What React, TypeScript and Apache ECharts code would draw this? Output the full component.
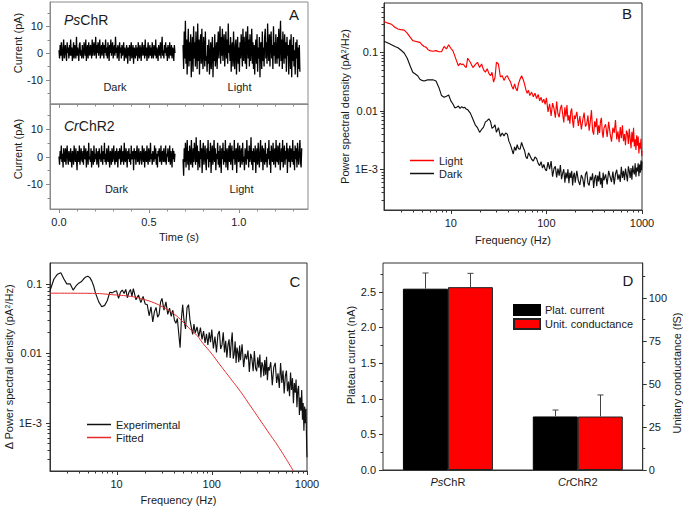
import React, { useEffect, useRef } from 'react';
import * as echarts from 'echarts';

const FONT = '"Liberation Sans", Arial, Helvetica, sans-serif';
const TXT = '#1a1a1a';
const FRAME_A = '#8a8a8a';
const FRAME = '#333333';
const BAR_W = 45;

// ---------- Panel A : current traces (pA) ----------
const psDarkPa = [
  1, -2, 3, -1, 4, 0, -3, 2, 5, -2, 1, 3, -1, -3, 4, 0, 2, -2, 3, -1,
  5, -1, 2, -3, 0, 4, -2, 3, 1, -2, 6, -1, 2, 0, -3, 3, 4, -1, 1, -2,
  3, 0, -2, 4, 2, -1, 5, -3, 1, 3, -2, 4, 0, -1, 3, 2, -2, 5, -1, 2,
  4, -1, 1, 6, -2, 3, 0, 4, -1, 2, 5, -2, 1, 3, -1, 4, 2, -2, 3, 0,
  5, -1, 2, -2, 4, 1, -3, 3, 0, 5, -1, 2, 4, -2, 1, 3, -1, 6, 0, 2,
  -2, 3, 1, -3, 4, 0, 2, -2, 3, -1, 1, 4, -3, 2, 0, -2, 3, 1, -4, 2,
  -1, 3, -3, 1, 4, -2, 0, 3, -4, 2, 1, -2, 3, -1, 2, -3, 4, 0, -2, 3,
  1, -3, 2, 4, -1, 0, 3, -2, 5, -1, 2, -3, 1, 4, -2, 0, 3, -1, 2, -2,
  4, 0, -2, 3, 1, -1, 5, -2, 2, 0, -3, 3, 1, -1, 4, -2, 2, 6, -1, 1,
  -2, 3, 0, 4, -1, 2, -3, 3, 1, -2, 4, 0, -1, 3, -2, 2, 1, -3, 3, 0,
];
const psLightPa = [
  3, -6, 8, -2, 12, -4, 5, -8, 2, 9, -5, 4, -3, 7, -9, 1, 6, -7, 10, -2,
  4, -5, 8, 0, -6, 11, -3, 5, -8, 3, 7, -4, 9, -1, -6, 6, 2, -5, 8, -3,
  -1, -7, 3, -4, 5, -8, -2, 4, -6, 1, 6, -9, 2, -3, 7, -5, 0, 4, -6, 3,
  8, -2, 5, 10, -4, 6, -1, 9, -3, 4, 7, -5, 2, 8, -2, 5, -4, 11, 0, 3,
  -3, 6, -7, 2, 4, -5, 8, -1, -6, 3, 5, -8, 1, 6, -4, 2, -7, 4, -2, 7,
  2, -5, 9, -3, 6, 0, -4, 8, -6, 3, 10, -2, 5, -5, 7, -3, 1, 9, -4, 4,
  -6, 3, -8, 1, 5, -4, 7, -7, 2, -2, 6, -9, 3, 4, -6, 8, -3, 2, -5, 6,
  9, -2, 4, -4, 11, 1, -3, 7, -5, 5, 8, -2, 3, -6, 10, -1, 4, -4, 7, 0,
  -4, 6, -2, 9, -5, 3, 12, -3, 5, -6, 8, 1, -4, 7, -2, 4, -7, 6, -1, 3,
  -8, 2, 5, -6, 7, -9, 3, -3, 6, -5, 1, -8, 4, -2, 5, -9, 2, -6, 3, -7,
];
const crDarkPa = [
  0, -3, 2, -1, 4, -2, 1, -4, 3, 0, -2, 3, -3, 1, 4, -1, -3, 2, 0, -2,
  3, -1, -4, 2, 1, -3, 4, 0, -2, 3, -1, -5, 2, 1, -2, 4, -3, 0, 3, -1,
  -2, 2, -3, 4, 0, -1, 3, -4, 1, 2, -3, 5, -1, 0, -2, 3, -4, 2, 1, -3,
  4, -2, 1, -1, 3, -3, 0, 2, -4, 3, -1, 1, -2, 4, 0, -3, 2, -1, 5, -2,
  1, -3, 3, 0, -2, 4, -1, -4, 2, 1, -3, 3, -2, 0, 4, -1, -3, 2, -2, 3,
  0, -4, 2, -1, 3, 1, -3, 4, -2, 0, 2, -3, 5, -1, -2, 3, 0, -4, 2, -1,
  3, -2, 1, -3, 4, -1, 0, 2, -5, 3, -1, 2, -3, 1, 4, -2, -1, 3, -3, 0,
  2, -1, -3, 4, 0, -2, 3, -4, 1, 2, -2, 4, -1, -3, 3, 0, -2, 5, -1, 1,
  -3, 2, 0, -2, 4, -1, 3, -3, 1, -4, 2, 0, 3, -2, -1, 4, -3, 1, 2, -2,
  3, -1, -2, 4, -3, 1, 0, 3, -2, -1, 4, -3, 2, 0, -4, 3, -1, 2, -2, 1,
];
const crLightPa = [
  -1, -7, 3, -2, 5, -4, 1, 6, -3, 2, -5, 4, 0, -3, 6, -1, -4, 3, -2, 5,
  1, -3, 7, -2, 4, -5, 2, 0, -4, 6, -1, 3, -6, 2, 5, -3, 0, 4, -2, -5,
  3, -1, 6, -4, 2, -2, 5, -6, 1, 4, -3, 0, 6, -2, 3, -5, 1, -1, 5, -3,
  2, -4, 4, 0, -6, 3, -1, 5, -3, 2, -2, 6, -4, 1, 3, -5, 0, 4, -2, 5,
  -3, 1, 4, -5, 2, -1, 6, -3, 0, 3, -6, 2, 5, -2, -1, 4, -4, 1, 3, -3,
  5, -2, 0, -5, 3, 1, -3, 6, -1, 2, -4, 4, -2, 0, 7, -3, 2, -5, 3, -1,
  -2, 4, -6, 1, 3, -3, 5, 0, -4, 2, 6, -2, -1, 4, -5, 3, 0, -3, 5, -2,
  1, -4, 3, -1, 6, -3, 2, -6, 4, 0, -2, 5, -3, 1, 3, -4, 6, -1, -2, 4,
  -3, 2, 5, -5, 0, 3, -2, 6, -4, 1, 4, -3, 2, -1, 5, -6, 3, 0, -2, 4,
  -4, 3, 1, -2, 6, -3, 2, -5, 4, -1, 3, -4, 5, 0, -3, 2, 6, -2, -4, 3,
];
// recording windows (s)
const psDarkSpan = [0, 0.645];
const psLightSpan = [0.69, 1.34];
const crDarkSpan = [0, 0.645];
const crLightSpan = [0.69, 1.35];

// ---------- Panels B and C : spectra ----------
const freqHz = [
  2, 2.2, 2.4, 2.6, 2.8, 3, 3.25, 3.5, 3.75, 4, 4.25, 4.5, 4.75, 5, 5.25, 5.5, 5.75, 6, 6.5, 7, 7.5, 8, 8.5, 9, 9.5,
  10, 10.5, 11, 11.5, 12, 12.5, 13, 13.5, 14, 14.5, 15,
  16, 17, 18, 19, 20, 21, 22, 23, 24, 25, 26, 27, 28, 29, 30,
  31.5, 33, 34.5, 36, 37.5, 39, 40.5, 42, 43.5, 45, 46.5, 48, 49.5,
  51, 53, 55, 57, 59, 61, 63, 65, 67,
  70, 73, 76, 79, 82, 85, 88, 91, 94, 97,
  100, 104, 108, 112, 116, 120, 124, 128, 132, 136, 140, 144, 148, 152, 156, 160, 164, 168, 172, 176, 180, 184, 188, 192, 196,
  200, 208, 216, 224, 232, 240, 248, 256, 264, 272, 280, 288, 296, 304, 312, 320, 328, 336, 344, 352, 360, 368, 376, 384, 392,
  400, 416, 432, 448, 464, 480, 496, 512, 528, 544, 560, 576, 592, 608, 624, 640, 656, 672, 688, 704, 720, 736, 752, 768, 784,
  800, 816, 832, 848, 864, 880, 896, 912, 928, 944, 960, 976, 992, 1000,
];
// log10(PSD in pA^2/Hz) x 100, one value per freqHz entry
const lightPsdLog = [
  -47, -50, -52, -57, -60, -61, -62, -67, -74, -80, -81, -82, -83, -87, -90, -91, -95, -97, -98, -97, -99, -99, -90, -94, -87,
  -93, -97, -106, -115, -123, -119, -121, -120, -124, -126, -110,
  -117, -126, -121, -117, -126, -120, -130, -134, -128, -136, -140, -134, -151, -143, -117,
  -120, -142, -140, -148, -142, -140, -146, -150, -158, -163, -154, -162, -166,
  -154, -146, -140, -146, -154, -164, -170, -165, -174,
  -168, -176, -170, -179, -172, -183, -177, -186, -180, -189,
  -178, -202, -188, -209, -187, -196, -212, -184, -205, -211, -196, -190, -206, -220, -194, -210, -190, -217, -208, -222, -201, -196, -218, -229, -208,
  -214, -202, -226, -209, -232, -216, -203, -227, -223, -208, -234, -218, -199, -234, -241, -218, -228, -213, -241, -225, -238, -218, -212, -236, -246,
  -230, -223, -245, -219, -239, -253, -229, -238, -216, -249, -235, -254, -228, -247, -225, -252, -240, -259, -234, -239, -257, -231, -248, -264, -236,
  -254, -229, -261, -249, -267, -242, -260, -244, -273, -255, -265, -248, -278, -269,
];
const darkPsdLog = [
  -81, -84, -87, -90, -92, -96, -101, -110, -123, -134, -137, -140, -146, -148, -149, -148, -147, -147, -147, -149, -160, -174, -177, -175, -173,
  -183, -188, -195, -194, -192, -196, -193, -195, -194, -197, -198,
  -204, -214, -224, -229, -237, -232, -228, -219, -217, -214, -218, -230, -228, -224, -237,
  -229, -244, -238, -243, -238, -240, -252, -258, -266, -274, -262, -268, -258,
  -265, -266, -254, -262, -268, -279, -282, -272, -276,
  -283, -286, -279, -282, -290, -294, -287, -298, -292, -300,
  -303, -288, -300, -286, -313, -299, -295, -314, -299, -311, -293, -317, -307, -300, -323, -306, -316, -300, -324, -306, -315, -303, -328, -311, -306,
  -323, -303, -320, -327, -310, -316, -331, -309, -304, -324, -328, -313, -319, -307, -332, -315, -310, -329, -311, -321, -304, -326, -315, -332, -306,
  -319, -309, -326, -303, -313, -322, -304, -326, -308, -301, -318, -309, -322, -296, -315, -303, -319, -299, -310, -321, -295, -303, -315, -298, -318,
  -294, -304, -309, -290, -313, -297, -304, -290, -312, -292, -306, -285, -302, -287,
];
const deltaPsdLog = [
  -110, -93, -86, -84, -93, -100, -100, -109, -103, -99, -97, -93, -90, -89, -91, -96, -103, -113, -126, -133, -131, -124, -112, -113, -111,
  -110, -121, -112, -109, -114, -108, -120, -112, -108, -118, -107,
  -123, -116, -127, -118, -129, -130, -146, -133, -155, -140, -134, -148, -144, -126, -121,
  -138, -126, -144, -135, -147, -138, -152, -157, -150, -172, -192, -150, -130,
  -152, -165, -134, -130, -152, -163, -173, -158, -171,
  -162, -176, -163, -180, -168, -185, -172, -188, -170, -184,
  -166, -193, -176, -199, -173, -168, -194, -188, -170, -199, -182, -206, -188, -180, -207, -185, -170, -208, -201, -183, -214, -192, -199, -213, -189,
  -210, -187, -220, -201, -209, -196, -227, -201, -208, -226, -197, -221, -226, -206, -221, -202, -235, -213, -218, -233, -210, -231, -205, -239, -220,
  -225, -213, -246, -220, -214, -243, -229, -250, -214, -243, -225, -258, -233, -225, -255, -241, -262, -228, -253, -236, -272, -243, -257, -238, -278,
  -253, -247, -289, -264, -283, -253, -296, -272, -312, -277, -301, -280, -335, -350,
];
const fitFreqHz = [2, 5, 10, 15, 20, 25, 30, 40, 50, 60, 70, 80, 100, 120, 150, 200, 250, 300, 400, 500, 720];
const fitPsd = [0.0734, 0.0731, 0.069, 0.065, 0.059, 0.053, 0.047, 0.037, 0.028, 0.0218, 0.018, 0.0141, 0.0098, 0.007, 0.0047, 0.0028, 0.0018, 0.00125, 0.0007, 0.00045, 0.0002];

// ---------- Panel D ----------
const categories = ['PsChR', 'CrChR2'];
const plateauCurrent = [2.54, 0.75];
const plateauCurrentErr = [0.22, 0.09];
const unitConductance = [106, 31];
const unitConductanceErr = [8, 12.5];

// ---------- tick values ----------
const timeTicksMajor = [0, 0.5, 1.0];
const timeTicksMinor = [0.1, 0.2, 0.3, 0.4, 0.6, 0.7, 0.8, 0.9, 1.1, 1.2, 1.3];
const paTicksMajor = [-10, 0, 10];
const paTicksMinor = [-15, -5, 5, 15];
const freqTicksMajor = [10, 100, 1000];
const freqTicksMinor = [3, 4, 5, 6, 7, 8, 9, 20, 30, 40, 50, 60, 70, 80, 90, 200, 300, 400, 500, 600, 700, 800, 900];
const psdTicksMajor = [0.001, 0.01, 0.1];
const psdTicksMinorC = [3e-4, 4e-4, 5e-4, 6e-4, 7e-4, 8e-4, 9e-4, 2e-3, 3e-3, 4e-3, 5e-3, 6e-3, 7e-3, 8e-3, 9e-3,
  0.02, 0.03, 0.04, 0.05, 0.06, 0.07, 0.08, 0.09];
const psdTicksMinorB = [...psdTicksMinorC, 0.2, 0.3, 0.4, 0.5, 0.6];
const currentTicksMajor = [0, 0.5, 1, 1.5, 2, 2.5];
const currentTicksMinor = [0.25, 0.75, 1.25, 1.75, 2.25, 2.75];
const condTicksMajor = [0, 25, 50, 75, 100];
const condTicksMinor = [12.5, 37.5, 62.5, 87.5, 112.5];

// ---------- helpers ----------
const trace = (vals: number[], span: number[]) =>
  vals.map((v, i) => [span[0] + ((span[1] - span[0]) * i) / (vals.length - 1), v]);
const spectrum = (logs: number[]) => logs.map((l, i) => [freqHz[i], Math.pow(10, l / 100)]);

const fmtLog = (v: number) => {
  const l = Math.log10(v);
  const e = Math.round(l);
  if (Math.abs(l - e) > 1e-6) return '';
  if (e >= 0) return String(Math.round(v));
  if (e >= -2) return Math.pow(10, e).toFixed(-e);
  return '1E' + e;
};
const fmtTime = (v: number) =>
  v > -1e-9 && Math.abs(v * 2 - Math.round(v * 2)) < 1e-6 ? v.toFixed(1) : '';
const fmtPa = (v: number) => (Math.abs(v % 10) < 1e-9 ? String(v) : '');

const axisText = { fontSize: 11, color: TXT, fontFamily: FONT };
const supRich = { sup: { fontSize: 7, fontFamily: FONT, color: TXT, verticalAlign: 'top', lineHeight: 8 } };

function tickSeries(xIdx: number, yIdx: number, where: 'x' | 'y' | 'y2', values: number[], len: number, ref: number, color: string) {
  return {
    type: 'custom',
    xAxisIndex: xIdx,
    yAxisIndex: yIdx,
    silent: true,
    z: 10,
    data: values.map((v) => (where === 'x' ? [v, ref] : [ref, v])),
    renderItem: (params: any, api: any) => {
      const p = api.coord([api.value(0), api.value(1)]);
      const cs = params.coordSys;
      let shape;
      if (where === 'x') {
        const x = Math.round(p[0]) + 0.5;
        shape = { x1: x, y1: cs.y + cs.height, x2: x, y2: cs.y + cs.height + len };
      } else if (where === 'y') {
        const y = Math.round(p[1]) + 0.5;
        shape = { x1: cs.x - len, y1: y, x2: cs.x, y2: y };
      } else {
        const y = Math.round(p[1]) + 0.5;
        shape = { x1: cs.x + cs.width, y1: y, x2: cs.x + cs.width + len, y2: y };
      }
      return { type: 'line', shape, style: { stroke: color, lineWidth: 1 } };
    },
  };
}

function errorSeries(vals: number[], errs: number[], yIdx: number, dx: number) {
  return {
    type: 'custom',
    xAxisIndex: 4,
    yAxisIndex: yIdx,
    silent: true,
    z: 6,
    data: vals.map((v, i) => [i, v, v + errs[i]]),
    renderItem: (params: any, api: any) => {
      const base = api.coord([api.value(0), api.value(1)]);
      const top = api.coord([api.value(0), api.value(2)]);
      const x = Math.round(base[0] + dx) + 0.5;
      return {
        type: 'group',
        children: [
          { type: 'line', shape: { x1: x, y1: base[1], x2: x, y2: top[1] }, style: { stroke: '#444', lineWidth: 1 } },
          { type: 'line', shape: { x1: x - 3, y1: top[1], x2: x + 3, y2: top[1] }, style: { stroke: '#444', lineWidth: 1 } },
        ],
      };
    },
  };
}

const lineSeries = (name: string, data: any, xIdx: number, yIdx: number, color: string, width = 1, smooth = false) => ({
  type: 'line',
  name,
  data,
  xAxisIndex: xIdx,
  yAxisIndex: yIdx,
  symbol: 'none',
  showSymbol: false,
  smooth,
  lineStyle: { color, width },
  itemStyle: { color },
  emphasis: { disabled: true },
  z: 4,
});

const noLine = { show: false };

function buildOption() {
  const grids = [
    { left: 50, top: 2, width: 258, height: 102, show: true, borderColor: FRAME_A, borderWidth: 1 },
    { left: 50, top: 104, width: 258, height: 105, show: true, borderColor: FRAME_A, borderWidth: 1 },
    { left: 384, top: 3, width: 258, height: 207, show: true, borderColor: FRAME, borderWidth: 1 },
    { left: 50, top: 263, width: 257, height: 208, show: true, borderColor: FRAME, borderWidth: 1 },
    { left: 383, top: 263, width: 260, height: 207, show: true, borderColor: FRAME, borderWidth: 1 },
  ];

  const xAxis = [
    {
      type: 'value', gridIndex: 0, min: -0.05, max: 1.385, splitNumber: 3,
      axisLine: { onZero: false, lineStyle: { color: FRAME_A } }, axisTick: noLine, axisLabel: noLine, splitLine: noLine,
    },
    {
      type: 'value', gridIndex: 1, min: -0.05, max: 1.385, splitNumber: 3,
      axisLine: { onZero: false, lineStyle: { color: FRAME_A } }, axisTick: noLine, splitLine: noLine,
      axisLabel: { ...axisText, margin: 7, formatter: fmtTime, showMinLabel: true, showMaxLabel: true, interval: 0 },
      name: 'Time (s)', nameLocation: 'middle', nameGap: 22, nameTextStyle: axisText,
    },
    {
      type: 'log', logBase: 10, gridIndex: 2, min: 2, max: 1000,
      axisLine: { onZero: false, lineStyle: { color: FRAME } }, axisTick: noLine, splitLine: noLine,
      axisLabel: { ...axisText, margin: 7, formatter: fmtLog, showMinLabel: true, showMaxLabel: true, interval: 0 },
      name: 'Frequency (Hz)', nameLocation: 'middle', nameGap: 24, nameTextStyle: axisText,
    },
    {
      type: 'log', logBase: 10, gridIndex: 3, min: 2, max: 1000,
      axisLine: { onZero: false, lineStyle: { color: FRAME } }, axisTick: noLine, splitLine: noLine,
      axisLabel: { ...axisText, margin: 7, formatter: fmtLog, showMinLabel: true, showMaxLabel: true, interval: 0 },
      name: 'Frequency (Hz)', nameLocation: 'middle', nameGap: 23, nameTextStyle: axisText,
    },
    {
      type: 'category', gridIndex: 4, data: categories,
      axisLine: { onZero: false, lineStyle: { color: FRAME } }, axisTick: noLine, splitLine: noLine,
      axisLabel: {
        ...axisText, margin: 6, interval: 0,
        formatter: (v: string) => `{i|${v.slice(0, 2)}}${v.slice(2)}`,
        rich: { i: { fontStyle: 'italic', fontSize: 11, fontFamily: FONT, color: TXT } },
      },
    },
  ];

  const yAxis = [
    {
      type: 'value', gridIndex: 0, min: -19, max: 19, splitNumber: 4,
      axisLine: { onZero: false, lineStyle: { color: FRAME_A } }, axisTick: noLine, splitLine: noLine,
      axisLabel: { ...axisText, margin: 7, formatter: fmtPa, showMinLabel: true, showMaxLabel: true },
      name: 'Current (pA)', nameLocation: 'middle', nameRotate: 90, nameGap: 26,
      nameTextStyle: { ...axisText, padding: [0, 0, 0, 20] },
    },
    {
      type: 'value', gridIndex: 1, min: -19, max: 19, splitNumber: 4,
      axisLine: { onZero: false, lineStyle: { color: FRAME_A } }, axisTick: noLine, splitLine: noLine,
      axisLabel: { ...axisText, margin: 7, formatter: fmtPa, showMinLabel: true, showMaxLabel: true },
      name: 'Current (pA)', nameLocation: 'middle', nameRotate: 90, nameGap: 26,
      nameTextStyle: { ...axisText, padding: [0, 0, 0, 15] },
    },
    {
      type: 'log', logBase: 10, gridIndex: 2, min: 2e-4, max: 0.7,
      axisLine: { onZero: false, lineStyle: { color: FRAME } }, axisTick: noLine, splitLine: noLine,
      axisLabel: { ...axisText, margin: 6, formatter: fmtLog, showMinLabel: true, showMaxLabel: true, interval: 0 },
      name: 'Power spectral density (pA{sup|2}/Hz)', nameLocation: 'middle', nameRotate: 90, nameGap: 33,
      nameTextStyle: { ...axisText, rich: supRich },
    },
    {
      type: 'log', logBase: 10, gridIndex: 3, min: 2e-4, max: 0.2,
      axisLine: { onZero: false, lineStyle: { color: FRAME } }, axisTick: noLine, splitLine: noLine,
      axisLabel: { ...axisText, margin: 8, formatter: fmtLog, showMinLabel: true, showMaxLabel: true, interval: 0 },
      name: 'Δ Power spectral density (pA{sup|2}/Hz)', nameLocation: 'middle', nameRotate: 90, nameGap: 35,
      nameTextStyle: { ...axisText, rich: supRich },
    },
    {
      type: 'value', gridIndex: 4, min: 0, max: 2.9, interval: 0.5,
      axisLine: { onZero: false, lineStyle: { color: FRAME } }, axisTick: noLine, splitLine: noLine,
      axisLabel: {
        ...axisText, margin: 7, showMaxLabel: true,
        formatter: (v: number) => (v <= 2.5 + 1e-9 ? v.toFixed(1) : ''),
      },
      name: 'Plateau current (nA)', nameLocation: 'middle', nameRotate: 90, nameGap: 26,
      nameTextStyle: { ...axisText, padding: [0, 0, 0, 23] },
    },
    {
      type: 'value', gridIndex: 4, position: 'right', min: 0, max: 120, interval: 25,
      axisLine: { show: true, onZero: false, lineStyle: { color: FRAME } }, axisTick: noLine, splitLine: noLine,
      axisLabel: {
        ...axisText, margin: 6, showMaxLabel: true,
        formatter: (v: number) => (v <= 100 ? String(v) : ''),
      },
      name: 'Unitary conductance (fS)', nameLocation: 'middle', nameRotate: 90, nameGap: 28,
      nameTextStyle: { ...axisText, padding: [0, 13, 0, 0] },
    },
  ];

  const series: any[] = [
    // Panel A
    lineSeries('PsChR dark', trace(psDarkPa, psDarkSpan), 0, 0, '#000', 1.3),
    lineSeries('PsChR light', trace(psLightPa, psLightSpan), 0, 0, '#000', 1.3),
    lineSeries('CrChR2 dark', trace(crDarkPa, crDarkSpan), 1, 1, '#000', 1.3),
    lineSeries('CrChR2 light', trace(crLightPa, crLightSpan), 1, 1, '#000', 1.3),
    // Panel B
    lineSeries('Light', spectrum(lightPsdLog), 2, 2, '#ff0000', 1.15),
    lineSeries('Dark', spectrum(darkPsdLog), 2, 2, '#111', 1.15),
    // Panel C
    lineSeries('Experimental', spectrum(deltaPsdLog), 3, 3, '#111', 1.15),
    lineSeries('Fitted', fitFreqHz.map((f, i) => [f, fitPsd[i]]), 3, 3, '#e52b2b', 1, true),
    // Panel D
    {
      type: 'bar', name: 'Plat. current', xAxisIndex: 4, yAxisIndex: 4, data: plateauCurrent,
      barWidth: BAR_W, barGap: '0%', itemStyle: { color: '#000', borderColor: '#000', borderWidth: 1 },
      emphasis: { disabled: true }, z: 3,
    },
    {
      type: 'bar', name: 'Unit. conductance', xAxisIndex: 4, yAxisIndex: 5, data: unitConductance,
      barWidth: BAR_W, barGap: '0%', itemStyle: { color: '#ff0000', borderColor: '#222', borderWidth: 1 },
      emphasis: { disabled: true }, z: 3,
    },
    errorSeries(plateauCurrent, plateauCurrentErr, 4, -BAR_W / 2),
    errorSeries(unitConductance, unitConductanceErr, 5, BAR_W / 2),
    // ticks
    tickSeries(0, 0, 'x', timeTicksMajor, 4, 0, FRAME_A),
    tickSeries(0, 0, 'x', timeTicksMinor, 2.5, 0, FRAME_A),
    tickSeries(1, 1, 'x', timeTicksMajor, 4, 0, FRAME_A),
    tickSeries(1, 1, 'x', timeTicksMinor, 2.5, 0, FRAME_A),
    tickSeries(0, 0, 'y', paTicksMajor, 4, 0, FRAME_A),
    tickSeries(0, 0, 'y', paTicksMinor, 2.5, 0, FRAME_A),
    tickSeries(1, 1, 'y', paTicksMajor, 4, 0, FRAME_A),
    tickSeries(1, 1, 'y', paTicksMinor, 2.5, 0, FRAME_A),
    tickSeries(2, 2, 'x', freqTicksMajor, 4, 0.01, FRAME),
    tickSeries(2, 2, 'x', freqTicksMinor, 2.5, 0.01, FRAME),
    tickSeries(2, 2, 'y', psdTicksMajor, 4, 10, FRAME),
    tickSeries(2, 2, 'y', psdTicksMinorB, 2.5, 10, FRAME),
    tickSeries(3, 3, 'x', freqTicksMajor, 4, 0.01, FRAME),
    tickSeries(3, 3, 'x', freqTicksMinor, 2.5, 0.01, FRAME),
    tickSeries(3, 3, 'y', psdTicksMajor, 4, 10, FRAME),
    tickSeries(3, 3, 'y', psdTicksMinorC, 2.5, 10, FRAME),
    tickSeries(4, 4, 'y', currentTicksMajor, 4, 0, FRAME),
    tickSeries(4, 4, 'y', currentTicksMinor, 2.5, 0, FRAME),
    tickSeries(4, 5, 'y2', condTicksMajor, 4, 0, FRAME),
    tickSeries(4, 5, 'y2', condTicksMinor, 2.5, 0, FRAME),
  ];

  const legendBase = {
    orient: 'vertical', padding: 0, selectedMode: false,
    textStyle: { fontSize: 11, color: TXT, fontFamily: FONT, lineHeight: 13 },
  };

  const txt = (text: string, x: number, y: number, size: number, align = 'center', rich?: any) => ({
    type: 'text', x, y, silent: true,
    style: { text, x: 0, y: 0, fontSize: size, fontFamily: FONT, fill: TXT, align, verticalAlign: 'middle', rich },
  });
  const italicRich = (size: number) => ({ i: { fontStyle: 'italic', fontSize: size, fontFamily: FONT, fill: TXT } });

  return {
    animation: false,
    backgroundColor: '#ffffff',
    textStyle: { fontFamily: FONT },
    grid: grids,
    xAxis,
    yAxis,
    series,
    legend: [
      { ...legendBase, data: ['Light', 'Dark'], left: 410, top: 154, itemWidth: 24, itemHeight: 1.5, itemGap: 0, icon: 'rect' },
      { ...legendBase, data: ['Experimental', 'Fitted'], left: 87, top: 418, itemWidth: 24, itemHeight: 1.5, itemGap: 0, icon: 'rect' },
      {
        ...legendBase, data: ['Plat. current', 'Unit. conductance'], left: 513, top: 304, itemWidth: 26, itemHeight: 10,
        itemGap: 2, icon: 'rect', textStyle: { fontSize: 11, color: TXT, fontFamily: FONT, lineHeight: 11 },
      },
    ],
    graphic: [
      txt('A', 294, 14, 15),
      txt('B', 627, 13.5, 15),
      txt('C', 295, 281, 15),
      txt('D', 628, 280.5, 15),
      txt('{i|Ps}ChR', 64, 20, 14, 'left', italicRich(14)),
      txt('{i|Cr}ChR2', 64, 125.5, 14, 'left', italicRich(14)),
      txt('Dark', 115, 87, 11),
      txt('Light', 239.5, 87, 11),
      txt('Dark', 116.5, 189, 11),
      txt('Light', 241.5, 189, 11),
    ],
  };
}

export default function App() {
  const ref = useRef<HTMLDivElement>(null);
  useEffect(() => {
    if (!ref.current) return;
    const chart = echarts.init(ref.current, undefined, { renderer: 'svg' });
    chart.setOption(buildOption() as any);
    return () => chart.dispose();
  }, []);
  return (
    <div
      ref={ref}
      style={{ position: 'absolute', left: 0, top: 0, width: 683, height: 508, background: '#fff' }}
    />
  );
}
